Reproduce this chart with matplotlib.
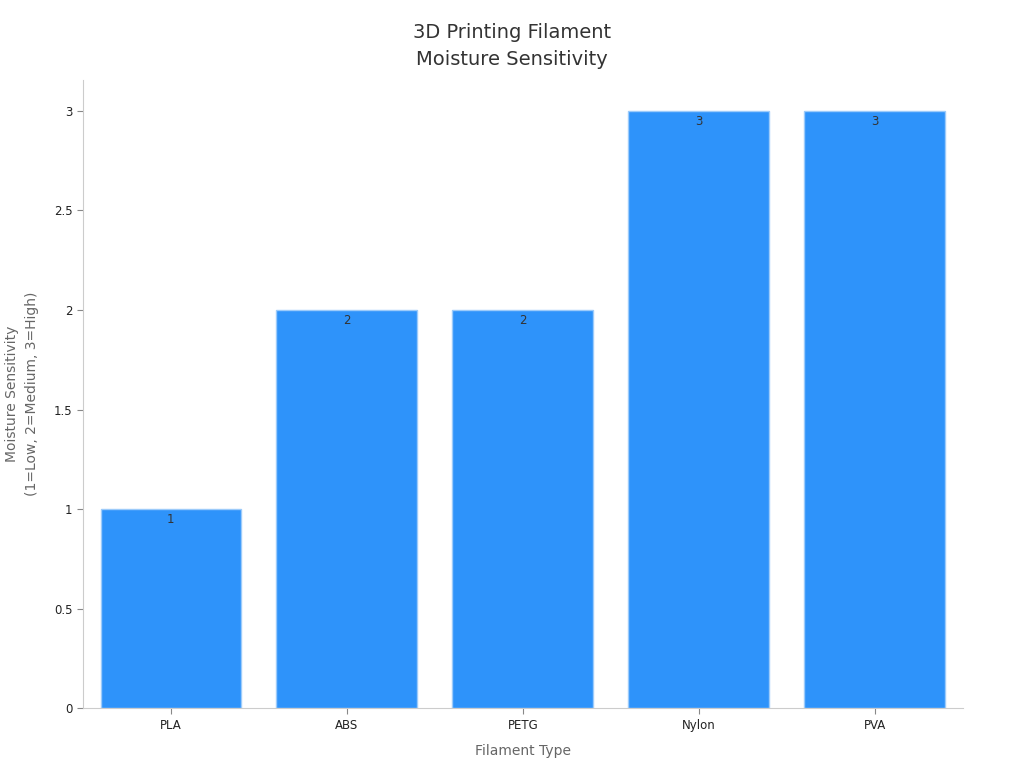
import matplotlib.pyplot as plt

materials = ['PLA', 'ABS', 'PETG', 'Nylon', 'PVA']
sensitivity = [1, 2, 2, 3, 3]
y_ticks = [0, 0.5, 1, 1.5, 2, 2.5, 3]
y_tick_labels = ['0', '0.5', '1', '1.5', '2', '2.5', '3']

plt.rcParams['font.family'] = ['DejaVu Sans']

fig = plt.figure(figsize=(10.24, 7.68), dpi=100)
ax = fig.add_axes([0.081, 0.078, 0.859, 0.818])

x = range(len(materials))
bars = ax.bar(x, sensitivity, width=0.8, color='#2E93FA', edgecolor='#9CCBFA', linewidth=1)

for b, v in zip(bars, sensitivity):
    ax.text(b.get_x() + b.get_width() / 2, v - 0.02, str(v), ha='center', va='top',
            fontsize=8.5, color='#333333')

ax.set_xlim(-0.5, 4.5)
ax.set_ylim(0, 3.156)
ax.set_xticks(list(x))
ax.set_xticklabels(materials, fontsize=8.5, color='#222222')
ax.set_yticks(y_ticks)
ax.set_yticklabels(y_tick_labels, fontsize=8.5, color='#222222')
ax.tick_params(axis='both', color='#888888', length=4)

for s in ['top', 'right']:
    ax.spines[s].set_visible(False)
for s in ['left', 'bottom']:
    ax.spines[s].set_color('#cccccc')

ax.set_xlabel('Filament Type', fontsize=10, color='#666666', labelpad=9)
ax.set_ylabel('Moisture Sensitivity\n(1=Low, 2=Medium, 3=High)', fontsize=10, color='#666666',
              labelpad=11, linespacing=1.5)
fig.suptitle('3D Printing Filament\nMoisture Sensitivity', fontsize=14, color='#333333',
             y=0.97, linespacing=1.55)

fig.savefig('out.png', dpi=100)
